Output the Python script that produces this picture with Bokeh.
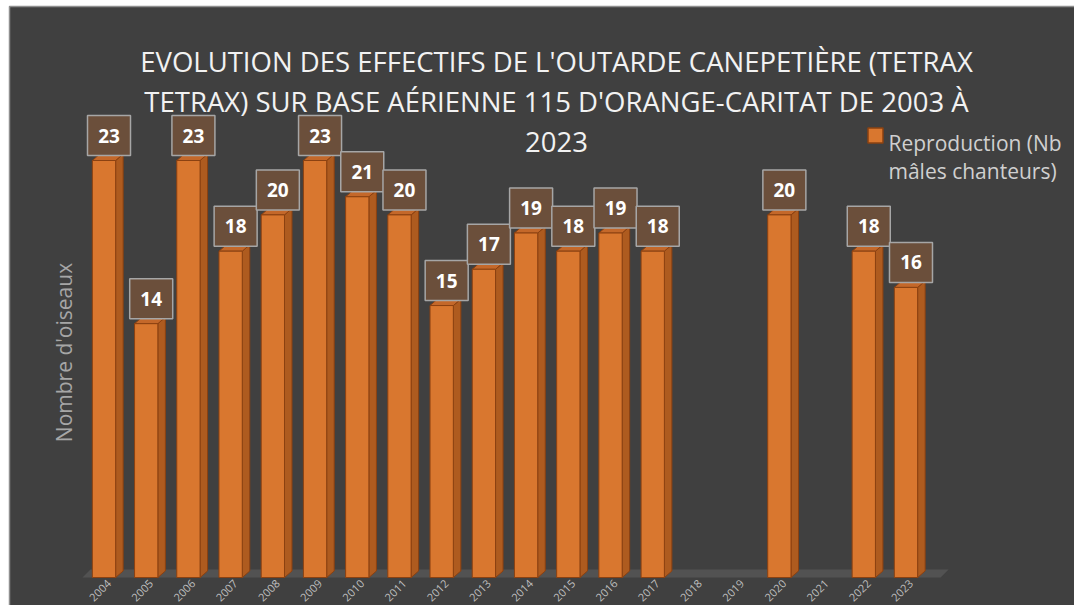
from math import pi
from bokeh.plotting import figure
from bokeh.models import ColumnDataSource, Range1d
from bokeh.core.properties import value
from bokeh.embed import file_html
from bokeh.resources import INLINE

# ---------------- data ----------------
years = ["2004", "2005", "2006", "2007", "2008", "2009", "2010", "2011", "2012", "2013",
         "2014", "2015", "2016", "2017", "2018", "2019", "2020", "2021", "2022", "2023"]
counts = [23, 14, 23, 18, 20, 23, 21, 20, 15, 17,
          19, 18, 19, 18, None, None, 20, None, 18, 16]
series_name = ["Reproduction (Nb", "mâles chanteurs)"]
title_lines = ["EVOLUTION DES EFFECTIFS DE L'OUTARDE CANEPETIÈRE (TETRAX",
               "TETRAX) SUR BASE AÉRIENNE 115 D'ORANGE-CARITAT DE 2003 À",
               "2023"]
y_title = "Nombre d'oiseaux"

# ---------------- geometry / style ----------------
W, H = 1074, 605
PX_X = 42.21          # pixels per category
PX_Y = 18.13          # pixels per bird
CX0 = 103.5           # canvas px of first category centre
CY0 = 577.0           # canvas px of y = 0

def X(px):
    return (px - CX0) / PX_X

def Y(py):
    return (CY0 - py) / PX_Y

def dx(px):
    return px / PX_X

def dy(px):
    return px / PX_Y

BG = "#404040"
FRONT = "#d9772f"
SIDE = "#ae5b1f"
TOP = "#c4682a"
EDGE = "#8b4111"
FONT = value("Open Sans")

p = figure(width=W, height=H, output_backend="svg", toolbar_location=None,
           x_range=Range1d(X(0), X(W)), y_range=Range1d(Y(H), Y(0)),
           x_axis_location=None, y_axis_location=None, min_border=0,
           background_fill_color="#ffffff", border_fill_color="#ffffff",
           outline_line_color=None)
p.xgrid.visible = False
p.ygrid.visible = False

# chart area with its border (top + left visible)
p.quad(left=[X(9)], right=[X(W + 20)], top=[Y(6)], bottom=[Y(H + 20)],
       fill_color=BG, line_color="#8f8f8f", line_width=1.5)

# floor slab
fw = dx(8)
fh = dy(8)
p.patch(x=[-0.51, 19.82, 19.82 + fw, -0.51 + fw], y=[0, 0, fh, fh],
        fill_color="#525252", line_color=None)

# bars (3D)
w = 0.552
ddx = dx(7.5)
ddy = dy(6.5)
idx = [i for i, v in enumerate(counts) if v is not None]
vals = [counts[i] for i in idx]

side_xs, side_ys, top_xs, top_ys = [], [], [], []
for i, v in zip(idx, vals):
    r = i + w / 2
    l = i - w / 2
    side_xs.append([r, r + ddx, r + ddx, r])
    side_ys.append([0, ddy, v + ddy, v])
    top_xs.append([l, r, r + ddx, l + ddx])
    top_ys.append([v, v, v + ddy, v + ddy])

p.patches(side_xs, side_ys, fill_color=SIDE, line_color=EDGE, line_width=1)
p.patches(top_xs, top_ys, fill_color=TOP, line_color=EDGE, line_width=1)
p.quad(left=[i - w / 2 for i in idx], right=[i + w / 2 for i in idx],
       bottom=0, top=vals, fill_color=FRONT, line_color=EDGE, line_width=1)

# data labels
lab = ColumnDataSource(dict(x=[i + dx(5) for i in idx],
                            y=[v + dy(25) for v in vals],
                            t=[str(v) for v in vals]))
p.rect(x="x", y="y", width=43, height=40, width_units="screen", height_units="screen",
       source=lab, fill_color="#6b4f3b", line_color="#a6a6a6", line_width=1.5)
p.text(x="x", y="y", text="t", source=lab, text_font=FONT, text_font_style="bold",
       text_font_size="19px", text_color="#ffffff", text_align="center",
       text_baseline="middle")

# x labels (rotated)
xl = ColumnDataSource(dict(x=[i + dx(5) for i in range(len(years))],
                           y=[Y(581)] * len(years), t=years))
p.text(x="x", y="y", text="t", source=xl, angle=pi / 4, text_font=FONT,
       text_font_size="11px", text_color="#bfbfbf", text_align="right",
       text_baseline="middle")

# y-axis title
p.text(x=[X(63)], y=[Y(352)], text=[y_title], angle=pi / 2, text_font=FONT,
       text_font_size="21px", text_color="#a6a6a6", text_align="center",
       text_baseline="middle")

# title
for k, line in enumerate(title_lines):
    p.text(x=[X(556)], y=[Y(61 + 40 * k)], text=[line], text_font=FONT,
           text_font_size="27.5px", text_color="#f2f2f2", text_align="center",
           text_baseline="alphabetic")

# legend
p.rect(x=[X(875)], y=[Y(135)], width=15, height=15, width_units="screen",
       height_units="screen", fill_color=FRONT, line_color=EDGE, line_width=1.5)
for k, line in enumerate(series_name):
    p.text(x=[X(888)], y=[Y(142 + 28 * k)], text=[line], text_font=FONT,
           text_font_size="21px", text_color="#d0d0d0", text_align="left",
           text_baseline="alphabetic")

open("out.html", "w").write(file_html(p, INLINE))
